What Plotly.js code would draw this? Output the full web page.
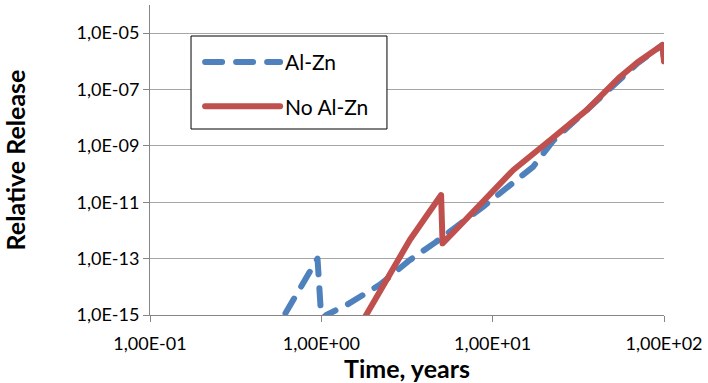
<!DOCTYPE html>
<html>
<head>
<meta charset="utf-8">
<script src="https://cdn.plot.ly/plotly-3.0.1.min.js"></script>
<style>
  html, body { margin: 0; padding: 0; background: #ffffff; }
  #chart { width: 708px; height: 383px; }
  /* rounded ends on the series strokes, as in office-style line charts */
  #chart path.js-line { stroke-linecap: round !important; stroke-linejoin: round !important; }
</style>
</head>
<body>
<div id="chart"></div>
<script>
// Relative release over time, log–log
const timeAlZn = [0.5, 0.95, 1.0, 1.07, 1.41, 2.2, 3.29, 4.61, 8.78, 12.3, 17.2, 22.5, 42.3, 55, 70, 98, 100];
const releaseAlZn = [1.3e-16, 1.0e-13, 7e-16, 1.0e-15, 2.3e-15, 1.2e-14, 9e-14, 3.7e-13, 6.9e-12, 3.5e-11, 1.8e-10, 1.5e-9, 5.0e-8, 2.5e-7, 8.5e-7, 3.8e-6, 1.0e-6];

const timeNoAlZn = [1.6, 3.29, 5.0, 5.1, 5.87, 9.27, 13.2, 22.5, 35.5, 55.3, 69.5, 98, 100];
const releaseNoAlZn = [2.5e-16, 4.7e-13, 1.8e-11, 3.5e-13, 8.3e-13, 1.57e-11, 1.4e-10, 1.95e-9, 1.9e-8, 2.8e-7, 8.9e-7, 3.85e-6, 1.0e-6];

const seriesNames = ["Al-Zn", "No Al-Zn"];

const xTickVals = [0.1, 1, 10, 100];
const xTickText = ["1,00E-01", "1,00E+00", "1,00E+01", "1,00E+02"];
const yTickVals = [1e-15, 1e-13, 1e-11, 1e-9, 1e-7, 1e-5];
const yTickText = ["1,0E-15", "1,0E-13", "1,0E-11", "1,0E-09", "1,0E-07", "1,0E-05"];

const FONT = "Lato, 'Open Sans', sans-serif";
const AXIS_GREY = "#868686";
const GRID_GREY = "#a6a6a6";

const traces = [
  {
    x: timeAlZn, y: releaseAlZn, name: seriesNames[0], legendgroup: "a",
    type: "scatter", mode: "lines",
    line: { color: "#4f81bd", width: 6, dash: "17px,14px" }
  },
  {
    x: timeNoAlZn, y: releaseNoAlZn, name: seriesNames[1], legendgroup: "b",
    type: "scatter", mode: "lines",
    line: { color: "#c0504d", width: 6 }
  }
];

const layout = {
  width: 708, height: 383,
  margin: { l: 150, r: 44, t: 5, b: 68 },
  paper_bgcolor: "#ffffff", plot_bgcolor: "#ffffff",
  font: { family: FONT, color: "#000000", size: 18 },
  showlegend: true,
  legend: {
    x: 0.0975, y: 0.881, xanchor: "left", yanchor: "top",
    bgcolor: "rgba(0,0,0,0)", borderwidth: 0,
    font: { family: FONT, size: 21, color: "#000000" },
    itemwidth: 75, tracegroupgap: 14
  },
  xaxis: {
    type: "log", range: [-1, 2],
    tickmode: "array", tickvals: xTickVals, ticktext: xTickText,
    showgrid: false, zeroline: false,
    showline: true, linecolor: AXIS_GREY, linewidth: 1,
    ticks: "outside", ticklen: 6, tickcolor: AXIS_GREY,
    ticklabelstandoff: 6,
    tickfont: { family: FONT, size: 18 },
    title: { text: "<b>Time, years</b>", font: { family: FONT, size: 25 }, standoff: 3 }
  },
  yaxis: {
    type: "log", range: [-15, -4],
    tickmode: "array", tickvals: yTickVals, ticktext: yTickText,
    showgrid: true, gridcolor: GRID_GREY, gridwidth: 1,
    zeroline: false,
    showline: true, linecolor: AXIS_GREY, linewidth: 1,
    ticks: "outside", ticklen: 6, tickcolor: AXIS_GREY,
    tickfont: { family: FONT, size: 18 },
    title: { text: "<b>Relative Release</b>", font: { family: FONT, size: 25 }, standoff: 44 }
  },
  shapes: [
    {
      type: "rect", xref: "paper", yref: "paper", layer: "above",
      x0: 0.0798, x1: 0.461, y0: 0.600, y1: 0.900,
      fillcolor: "#ffffff", line: { color: "#000000", width: 1 }
    }
  ]
};

Plotly.newPlot("chart", traces, layout, { staticPlot: true, displayModeBar: false });
</script>
</body>
</html>
